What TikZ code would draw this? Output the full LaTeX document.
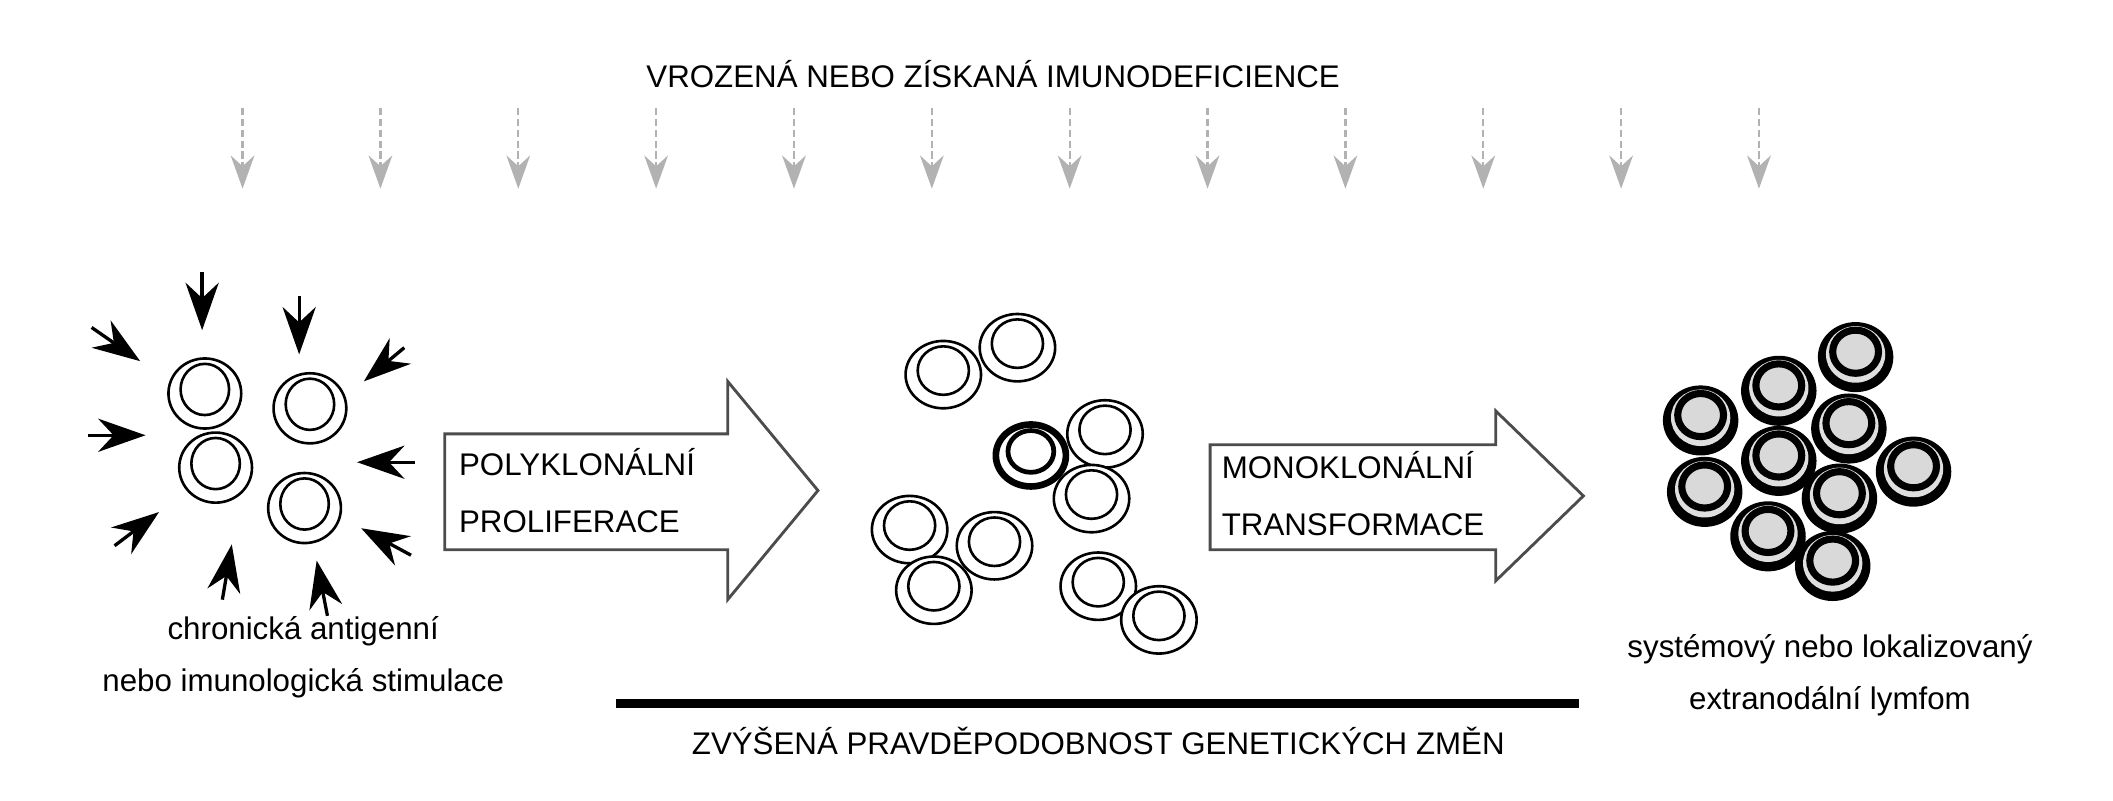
\documentclass[tikz,border=0pt]{standalone}
\usepackage{fontspec}
\setmainfont{Liberation Sans}
\usetikzlibrary{arrows.meta}
\tikzstyle{popis} = [font=\fontsize{6.6}{8}\selectfont, align=center, inner sep=0pt]
\tikzstyle{blok} = [draw=black!70, line width=0.6pt, fill=white]
\tikzstyle{bunka} = [draw=black, line width=0.55pt, fill=white]
\tikzstyle{silna} = [draw=black, line width=1.4pt, fill=white]
\tikzstyle{sipka} = [-{Stealth[length=10pt,width=7pt]}, line width=0.7pt]
\tikzstyle{seda} = [-{Stealth[length=7pt,width=5pt]}, gray!60, line width=0.5pt, dash pattern=on 1.5pt off 0.8pt]

\begin{document}
\begin{tikzpicture}[x=0.01cm, y=-0.01cm]
        \useasboundingbox (0,0) rectangle (1568,594);

        %% imunodeficience
        \node (imun) [popis] at (737,55) {VROZENÁ NEBO ZÍSKANÁ IMUNODEFICIENCE};
        \foreach \i in {0,...,11} {
            \coordinate (s\i) at ({180+102.3*\i},80);
            \coordinate (t\i) at ({180+102.3*\i},140);
            \draw[seda] (s\i) -- (t\i);
        }

        %% stimulace
        \foreach \x/\y [count=\n] in {152/292, 230/303, 160/347, 226/377} {
            \draw[bunka] (\x,\y) ellipse (27 and 26);
            \draw[bunka] (\x,\y-3) ellipse (18 and 19);
        }
        \foreach \ax/\ay/\bx/\by [count=\n] in {150/202/150/245, 222/220/222/263, 68/243/104/268, 300/258/270/283,
                65/323/108/323, 308/343/265/343, 85/405/118/380, 305/412/268/392,
                165/445/172/404, 243/457/235/416} {
            \coordinate (a\n) at (\ax,\ay);
            \coordinate (b\n) at (\bx,\by);
            \draw[sipka] (a\n) -- (b\n);
        }
        \node (chron) [popis] at (225,488) {chronická antigenní\\[3pt]nebo imunologická stimulace};

        %% polyklonalni
        \draw[blok] (330,322) -- (540,322) -- (540,283) -- (607,364) -- (540,445) -- (540,408) -- (330,408) -- cycle;
        \node (poly) [popis, align=left, anchor=west] at (340,364) {POLYKLONÁLNÍ\\[4pt]PROLIFERACE};

        \foreach \x/\y in {700/278, 755/258, 820/322, 810/370, 675/393, 738/405, 693/438, 815/435, 860/460} {
            \draw[bunka] (\x,\y) ellipse (28 and 25);
            \draw[bunka] (\x,\y-3) ellipse (19 and 18);
        }
        \draw[silna] (765,338) ellipse (26 and 23);
        \draw[bunka, line width=1pt] (765,335) ellipse (17 and 15.5);

        %% monoklonalni
        \draw[blok] (898,330) -- (1110,330) -- (1110,305) -- (1175,368) -- (1110,431) -- (1110,408) -- (898,408) -- cycle;
        \node (mono) [popis, align=left, anchor=west] at (906,366) {MONOKLONÁLNÍ\\[4pt]TRANSFORMACE};

        \foreach \x/\y in {1377/265, 1320/290, 1262/312, 1372/318, 1420/350, 1320/342, 1265/365, 1365/370, 1312/398, 1360/420} {
            \fill[black] (\x,\y) ellipse (28 and 26);
            \fill[gray!25] (\x,\y-2) ellipse (22 and 21);
            \draw[line width=1.5pt, fill=gray!30] (\x,\y-4) ellipse (17 and 16);
        }
        \node (lymf) [popis] at (1358,501) {systémový nebo lokalizovaný\\[3pt]extranodální lymfom};

        %% geneticke zmeny
        \coordinate (g1) at (457,522);
        \coordinate (g2) at (1172,522);
        \draw[line width=2pt] (g1) -- (g2);
        \node (zmeny) [popis] at (815,550) {ZVÝŠENÁ PRAVDĚPODOBNOST GENETICKÝCH ZMĚN};

    \end{tikzpicture}
\end{document}
